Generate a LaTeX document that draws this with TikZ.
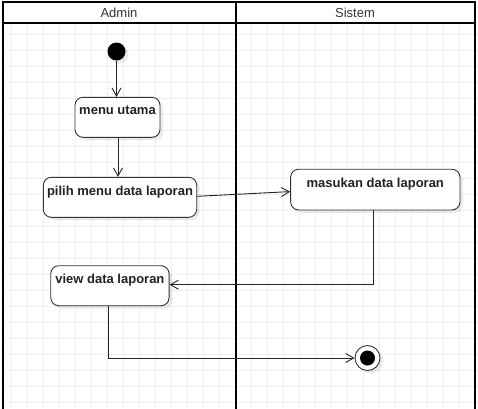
\documentclass[tikz,border=0pt]{standalone}
\usepackage{fontspec}
\setmainfont{Liberation Sans}
\usetikzlibrary{arrows.meta,shadows}
\definecolor{gridc}{HTML}{EFEFEF}
\definecolor{ink}{HTML}{333333}
\definecolor{txt}{HTML}{222222}
\begin{document}
\begin{tikzpicture}[x=1pt,y=-1pt,
  shade3/.style={drop shadow={shadow xshift=3pt,shadow yshift=-3pt,fill=black,opacity=0.08}},
  act/.style={draw=ink,line width=0.9pt,fill=white,rounded corners=8pt,shade3,inner sep=0pt},
  lbl/.style={font=\fontsize{13}{15}\selectfont\bfseries,text=txt,inner sep=0pt},
  arr/.style={draw=black!85,line width=0.9pt,-{Straight Barb[length=8pt,width=9pt]}},
  lane/.style={draw=black,line width=2pt},
  head/.style={font=\fontsize{13}{15}\selectfont,text=ink,inner sep=0pt}]
\useasboundingbox (0,0) rectangle (478,408);
\fill[white] (0,0) rectangle (478,408);
% grid
\begin{scope}
\clip (3,23) rectangle (478,408);
\foreach \gx in {0,...,29} {\draw[gridc,line width=0.8pt] (11.5+16*\gx,23) -- (11.5+16*\gx,408);}
\foreach \gy in {0,...,23} {\draw[gridc,line width=0.8pt] (3,34+16*\gy) -- (478,34+16*\gy);}
\end{scope}
% swimlanes
\draw[lane] (3,410) -- (3,2) -- (475,2) -- (475,410);
\draw[lane] (3,23) -- (475,23);
\draw[lane] (235.5,2) -- (235.5,410);
\node[head] (hadmin) at (119,13) {Admin};
\node[head] (hsistem) at (355,13) {Sistem};
% start / end
\node[circle,fill=black,minimum size=18pt,inner sep=0pt,shade3] (start) at (116.5,51.5) {};
\node[circle,draw=ink,line width=0.9pt,fill=white,minimum size=25pt,inner sep=0pt,shade3] (end) at (367.5,358) {};
\node[circle,fill=black,minimum size=15pt,inner sep=0pt] (enddot) at (end.center) {};
% activities
\node[act,minimum width=85pt,minimum height=40pt] (menu) at (117.5,117.3) {};
\node[lbl,anchor=north] (menut) at ([yshift=-9pt]menu.north) {menu utama};
\node[act,minimum width=153.4pt,minimum height=40pt] (pilih) at (120,197.3) {};
\node[lbl,anchor=north] (piliht) at ([yshift=-9pt]pilih.north) {pilih menu data laporan};
\node[act,minimum width=169.3pt,minimum height=40.7pt] (masuk) at (375.3,189.6) {};
\node[lbl,anchor=north] (masukt) at ([yshift=-9pt]masuk.north) {masukan data laporan};
\node[act,minimum width=118.3pt,minimum height=40pt] (view) at (109.9,285.7) {};
\node[lbl,anchor=north] (viewt) at ([yshift=-8.5pt]view.north) {view data laporan};
% connectors
\draw[arr] (start.south) -- (start.south |- menu.north);
\draw[arr] ([xshift=0.5pt]menu.south) -- ([xshift=0.5pt]menu.south |- pilih.north);
\draw[arr] ([yshift=1pt]pilih.east) -- ([yshift=-2pt]masuk.west);
\draw[arr] ([xshift=-2pt]masuk.south) |- ([yshift=1pt]view.east);
\draw[arr] ([xshift=-1pt]view.south) |- (end.west);
\end{tikzpicture}
\end{document}
